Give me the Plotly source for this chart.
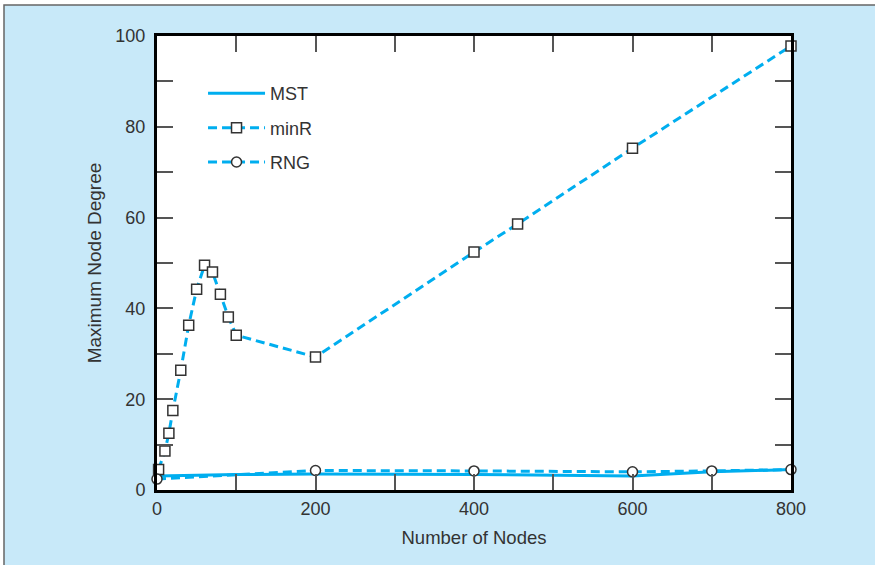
import plotly.graph_objects as go

# Data
mst_x = [0, 100, 200, 400, 600, 700, 800]
mst_y = [3.1, 3.4, 3.5, 3.4, 3.1, 4.0, 4.5]

minr_x = [2, 10, 15, 20, 30, 40, 50, 60, 70, 80, 90, 100, 200, 400, 455, 600, 800]
minr_y = [4.5, 8.6, 12.5, 17.5, 26.4, 36.3, 44.2, 49.5, 48.0, 43.1, 38.1, 34.1, 29.3, 52.4, 58.6, 75.3, 97.8]

rng_x = [0, 200, 400, 600, 700, 800]
rng_y = [2.4, 4.3, 4.2, 4.0, 4.2, 4.5]

x_ticks = [0, 200, 400, 600, 800]
y_ticks = [0, 20, 40, 60, 80, 100]

BLUE = "#00aeef"
BG = "#c8e9f9"
FONT = "Liberation Sans, Arial, sans-serif"

fig = go.Figure()
fig.add_trace(go.Scatter(
    x=mst_x, y=mst_y, name="MST", mode="lines",
    line=dict(color=BLUE, width=3), legendgroup="a", cliponaxis=False))
fig.add_trace(go.Scatter(
    x=minr_x, y=minr_y, name="minR", mode="lines+markers",
    line=dict(color=BLUE, width=3, dash="9px,5px"),
    marker=dict(symbol="square", size=10, color="white",
                line=dict(color="#333333", width=1.5)),
    legendgroup="b", cliponaxis=False))
fig.add_trace(go.Scatter(
    x=rng_x, y=rng_y, name="RNG", mode="lines+markers",
    line=dict(color=BLUE, width=3, dash="9px,5px"),
    marker=dict(symbol="circle", size=10, color="white",
                line=dict(color="#333333", width=1.5)),
    legendgroup="c", cliponaxis=False))

axis_common = dict(
    showline=True, linecolor="black", linewidth=3, mirror="ticks",
    ticks="inside", ticklen=16, tickwidth=1.5, tickcolor="#555555",
    showgrid=False, zeroline=False,
    tickfont=dict(family=FONT, size=18, color="#333333"),
)

fig.update_xaxes(
    range=[0, 800], tickvals=x_ticks,
    minor=dict(dtick=100, tick0=0, ticks="inside", ticklen=16, tickwidth=1.5, tickcolor="#555555"),
    title=dict(text="Number of Nodes", font=dict(family=FONT, size=18.5, color="#333333"), standoff=14),
    **axis_common)
fig.update_yaxes(
    range=[0, 100], tickvals=y_ticks, ticklabelstandoff=5,
    minor=dict(dtick=10, tick0=0, ticks="inside", ticklen=16, tickwidth=1.5, tickcolor="#555555"),
    title=dict(text="Maximum Node Degree", font=dict(family=FONT, size=19, color="#333333"), standoff=9),
    **axis_common)

# paper coordinate helpers for the frame border (plot area: x 157..791, y 36..490 px)
def px(v):
    return (v - 157) / 634.0

def py(v):
    return (490 - v) / 454.0

fig.update_layout(
    width=875, height=565,
    margin=dict(l=157, r=84, t=36, b=75),
    paper_bgcolor=BG, plot_bgcolor="white",
    font=dict(family=FONT, size=18, color="#333333"),
    legend=dict(x=0.0726, y=0.914, xanchor="left", yanchor="top",
                bgcolor="rgba(0,0,0,0)", itemwidth=57, tracegroupgap=8,
                traceorder="grouped", font=dict(family=FONT, size=18, color="#333333")),
    shapes=[
        dict(type="rect", xref="paper", yref="paper",
             x0=px(-10), x1=px(4), y0=py(600), y1=py(-10),
             fillcolor="white", line=dict(width=0), layer="below"),
        dict(type="rect", xref="paper", yref="paper",
             x0=px(-10), x1=px(900), y0=py(5), y1=py(-10),
             fillcolor="white", line=dict(width=0), layer="below"),
        dict(type="rect", xref="paper", yref="paper",
             x0=px(4), x1=px(890), y0=py(590), y1=py(5),
             line=dict(color="#666666", width=1.5), layer="below"),
    ],
)

fig.write_html("out.html", config={"displayModeBar": False},
               post_script="document.body.style.margin='0';")
